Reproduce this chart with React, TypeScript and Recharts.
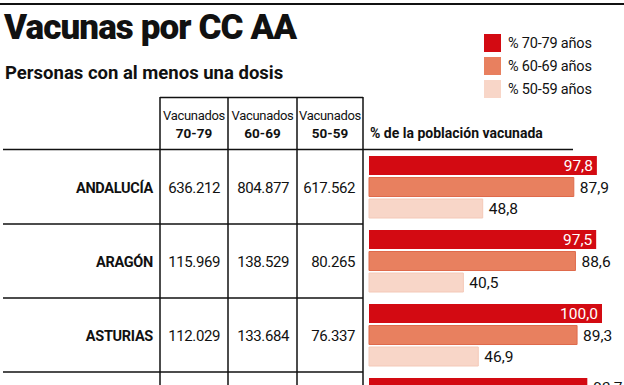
import React from "react";
import { Bar, BarChart, LabelList, Legend, XAxis, YAxis } from "recharts";

// table + bar values
const regions = ["ANDALUCÍA", "ARAGÓN", "ASTURIAS", ""];
const vaccinated7079 = [636212, 115969, 112029, null];
const vaccinated6069 = [804877, 138529, 133684, null];
const vaccinated5059 = [617562, 80265, 76337, null];
const pct7079 = [97.8, 97.5, 100.0, 93.7];
const pct6069 = [87.9, 88.6, 89.3, null];
const pct5059 = [48.8, 40.5, 46.9, null];

const seriesNames = ["% 70-79 años", "% 60-69 años", "% 50-59 años"];
const columnHeads = ["70-79", "60-69", "50-59"];

const FONT = "Roboto, 'Noto Sans', sans-serif";
const RED = "#d30a12";
const SALMON = "#e8805f";
const PINK = "#f8d6c8";

// column edges of the table (x of vertical rules)
const COL_LINES = [160, 228, 297, 363];

const data = regions.map((region, i) => ({
  region,
  v70: vaccinated7079[i],
  v60: vaccinated6069[i],
  v50: vaccinated5059[i],
  p70: pct7079[i],
  p60: pct6069[i],
  p50: pct5059[i],
}));

function fmtThousands(n: number | null) {
  if (n == null) return "";
  return String(n).replace(/\B(?=(\d{3})+(?!\d))/g, ".");
}

function fmtPct(v: number) {
  return v.toFixed(1).replace(".", ",");
}

const RowTick = (props: any) => {
  const { y, payload, index } = props;
  const row = data[index] || data.find((d) => d.region === payload.value);
  const half = payload && payload.offset ? payload.offset : 37;
  const cy = Number(y);
  const nums = row ? [row.v70, row.v60, row.v50] : [];
  return (
    <g>
      <text
        x={153}
        y={cy + 6}
        textAnchor="end"
        fontFamily={FONT}
        fontWeight={700}
        fontSize={14.5}
        letterSpacing={-0.3}
        fill="#111"
      >
        {payload.value}
      </text>
      {nums.map((n, i) => (
        <text
          key={i}
          x={COL_LINES[i + 1] - 8}
          y={cy + 6}
          textAnchor="end"
          fontFamily={FONT}
          fontSize={15}
          letterSpacing={-0.4}
          fill="#111"
        >
          {fmtThousands(n)}
        </text>
      ))}
      <line x1={3} x2={363} y1={cy + half} y2={cy + half} stroke="#111" strokeWidth={1.5} />
    </g>
  );
};

const TopLabel = (props: any) => {
  const { x, y, width, height, value } = props;
  if (value == null || value === "") return null;
  const v = Number(value);
  const inside = v >= 95;
  const xx = Number(x) + Number(width);
  return (
    <text
      x={inside ? xx - 4 : xx + 6}
      y={Number(y) + Number(height) / 2}
      dy="0.36em"
      textAnchor={inside ? "end" : "start"}
      fontFamily={FONT}
      fontSize={15.5}
      fill={inside ? "#fff" : "#111"}
    >
      {fmtPct(v)}
    </text>
  );
};

const OutLabel = (props: any) => {
  const { x, y, width, height, value } = props;
  if (value == null || value === "") return null;
  return (
    <text
      x={Number(x) + Number(width) + 6}
      y={Number(y) + Number(height) / 2}
      dy="0.36em"
      fontFamily={FONT}
      fontSize={15.5}
      fill="#111"
    >
      {fmtPct(Number(value))}
    </text>
  );
};

const LegendBox = ({ payload }: any) => {
  const items = [...(payload || [])].sort(
    (a: any, b: any) => seriesNames.indexOf(a.value) - seriesNames.indexOf(b.value)
  );
  return (
    <div>
      {items.map((item: any, i: number) => (
        <div key={i} style={{ display: "flex", alignItems: "center", height: 23 }}>
          <span
            style={{ display: "inline-block", width: 17, height: 18, background: item.color, marginRight: 7 }}
          />
          <span style={{ fontFamily: FONT, fontSize: 14.5, color: "#111", letterSpacing: -0.2 }}>
            {item.value}
          </span>
        </div>
      ))}
    </div>
  );
};

export default function App() {
  return (
    <div
      style={{
        position: "absolute",
        left: 0,
        top: 0,
        width: 624,
        height: 385,
        overflow: "hidden",
        background: "#fff",
      }}
    >
      <BarChart
        width={624}
        height={450}
        data={data}
        layout="vertical"
        margin={{ top: 150, right: 22, bottom: 4, left: 0 }}
        barSize={19}
        barGap={2.5}
      >
        <XAxis type="number" domain={[0, 100]} hide />
        <YAxis
          type="category"
          dataKey="region"
          width={369}
          axisLine={false}
          tickLine={false}
          tick={<RowTick />}
          interval={0}
        />
        <Legend
          layout="vertical"
          align="center"
          verticalAlign="middle"
          content={<LegendBox />}
          wrapperStyle={{ top: 31.5, left: 484, width: 140 }}
        />
        <Bar dataKey="p70" name={seriesNames[0]} fill={RED} isAnimationActive={false}>
          <LabelList dataKey="p70" content={<TopLabel />} />
        </Bar>
        <Bar dataKey="p60" name={seriesNames[1]} fill={SALMON} stroke="#df6a4c" strokeWidth={1} isAnimationActive={false}>
          <LabelList dataKey="p60" content={<OutLabel />} />
        </Bar>
        <Bar dataKey="p50" name={seriesNames[2]} fill={PINK} stroke="#f4c9b8" strokeWidth={1} isAnimationActive={false}>
          <LabelList dataKey="p50" content={<OutLabel />} />
        </Bar>
      </BarChart>

      <svg
        width={624}
        height={385}
        style={{ position: "absolute", left: 0, top: 0, pointerEvents: "none" }}
      >
        <line x1={0} x2={624} y1={4} y2={4} stroke="#111" strokeWidth={2} />
        <text x={4} y={39} fontFamily={FONT} fontWeight={900} fontSize={35} letterSpacing={-0.9} fill="#111">
          Vacunas por CC AA
        </text>
        <text x={5} y={79} fontFamily={FONT} fontWeight={700} fontSize={18.5} letterSpacing={0} fill="#111">
          Personas con al menos una dosis
        </text>

        {/* table header */}
        <line x1={COL_LINES[0]} x2={COL_LINES[3]} y1={97.5} y2={97.5} stroke="#111" strokeWidth={1.5} />
        {COL_LINES.map((x) => (
          <line key={x} x1={x} x2={x} y1={97} y2={385} stroke="#111" strokeWidth={1.5} />
        ))}
        {columnHeads.map((h, i) => {
          const cx = (COL_LINES[i] + COL_LINES[i + 1]) / 2;
          return (
            <g key={h}>
              <text x={cx} y={120} textAnchor="middle" fontFamily={FONT} fontSize={13} letterSpacing={-0.3} fill="#111">
                Vacunados
              </text>
              <text x={cx} y={138} textAnchor="middle" fontFamily={FONT} fontWeight={700} fontSize={13.5} fill="#111">
                {h}
              </text>
            </g>
          );
        })}
        <text x={370} y={138} fontFamily={FONT} fontWeight={700} fontSize={14} letterSpacing={0} fill="#111">
          % de la población vacunada
        </text>
        <line x1={3} x2={573} y1={149.5} y2={149.5} stroke="#111" strokeWidth={1.5} />
      </svg>
    </div>
  );
}
